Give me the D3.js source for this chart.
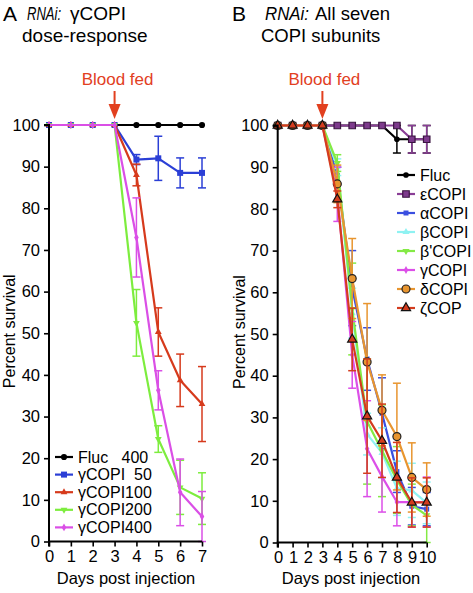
<!DOCTYPE html>
<html><head><meta charset="utf-8">
<script src="https://cdn.jsdelivr.net/npm/d3@7"></script>
<style>body{margin:0;background:#fff}svg{display:block}</style>
</head><body><svg id="c" width="473" height="593"></svg>
<script>
// ---------- Panel A data ----------
const daysA = [0,1,2,3,4,5,6,7];
const seriesA = ["Fluc   400","γCOPI  50","γCOPI100","γCOPI200","γCOPI400"];
const flucA = [100,100,100,100,100,100,100,100];
const flucAErr = [0,0,0,0,0,0,0,0];
const g50 = [100,100,100,100,91.7,92,88.5,88.5];
const g50Err = [0,0,0,0,1.2,5.3,3.6,3.6];
const g100 = [100,100,100,100,88,50.3,38.7,33];
const g100Err = [0,0,0,0,2.6,5.8,6.3,9];
const g200 = [100,100,100,100,52.5,24.6,13,10.3];
const g200Err = [0,0,0,0,8,3.2,6.5,6.2];
const g400 = [100,100,100,100,73,36.3,11.8,6];
const g400Err = [0,0,0,0,9.5,4.7,8,6];

// ---------- Panel B data ----------
const daysB = [0,1,2,3,4,5,6,7,8,9,10];
const seriesB = ["Fluc","εCOPI","αCOPI","βCOPI","β'COPI","γCOPI","δCOPI","ζCOP"];
const flucB = [100,100,100,100,100,100,100,100,96.7,96.7,96.7];
const flucBErr = [0,0,0,0,0,0,0,0,3.3,3.3,3.3];
const eps = [100,100,100,100,100,100,100,100,100,96.7,96.7];
const epsErr = [0,0,0,0,0,0,0,0,0,3.3,3.3];
const alpha = [100,100,100,100,88,61,44,31,17,8.7,8];
const alphaErr = [0,0,0,0,2,9,7.5,8.5,5,4.5,4];
const beta = [100,100,100,100,90,55,26,21.5,13,12.5,9.5];
const betaErr = [0,0,0,0,2,6,5,6,6.5,6.5,5];
const betaP = [100,100,100,100,91,56,29,22,15,9,6.5];
const betaPErr = [0,0,0,0,2,11,15,11,8,5,6.5];
const gammaB = [100,100,100,100,83.5,45,22.5,15.8,9.7,9.7,9.7];
const gammaBErr = [0,0,0,0,6.5,8,11.5,8.5,5.7,6,6];
const delta = [100,100,100,100,86,63.3,43.3,31.7,25.4,15.6,12.7];
const deltaErr = [0,0,0,0,4.5,9.6,14,8.5,12.8,8.3,6.4];
const zeta = [100,100,100,100,82.3,48.7,30.3,24.4,15.6,9.6,9.6];
const zetaErr = [0,0,0,0,2,7.5,13.7,8.8,8.4,5.9,5.9];

const yTicks = [0,10,20,30,40,50,60,70,80,90,100];

const svg = d3.select("#c");
const FONT = "'Liberation Sans', Arial, Helvetica, sans-serif";
const TFONT = "'Liberation Sans', Arial, sans-serif";
const RED = "#e2401f";

function sym(type, size){
  const m = {circle:d3.symbolCircle, square:d3.symbolSquare, triangle:d3.symbolTriangle, diamond:d3.symbolDiamond, cross:d3.symbolCross};
  return d3.symbol().type(m[type]).size(size)();
}

function drawPanel(cfg){
  const g = svg.append("g");
  const x = d3.scaleLinear().domain([0, cfg.days[cfg.days.length-1]]).range([cfg.x0, cfg.x1]);
  const y = d3.scaleLinear().domain([0,100]).range([cfg.y0, cfg.y1]);

  cfg.series.forEach(s => {
    const sg = g.append("g");
    cfg.days.forEach((d,i) => {
      const e = s.err[i]; if(!e) return;
      const cx = x(d), top = y(Math.min(100, s.vals[i]+e)), bot = y(Math.max(0, s.vals[i]-e));
      sg.append("line").attr("x1",cx).attr("x2",cx).attr("y1",top).attr("y2",bot).attr("stroke",s.color).attr("stroke-width",1.5);
      if (s.vals[i]+e <= 100.01) sg.append("line").attr("x1",cx-4).attr("x2",cx+4).attr("y1",top).attr("y2",top).attr("stroke",s.color).attr("stroke-width",1.5);
      sg.append("line").attr("x1",cx-4).attr("x2",cx+4).attr("y1",bot).attr("y2",bot).attr("stroke",s.color).attr("stroke-width",1.5);
    });
    const line = d3.line().x((d,i)=>x(cfg.days[i])).y(d=>y(d));
    sg.append("path").attr("d", line(s.vals)).attr("fill","none").attr("stroke",s.color).attr("stroke-width",2.2).attr("stroke-linejoin","round");
    s.vals.forEach((v,i)=>{
      sg.append("path").attr("d", sym(s.shape, s.size))
        .attr("transform", `translate(${x(cfg.days[i])},${y(v)})${s.flip?" rotate(180)":""}`)
        .attr("fill", s.fill||s.color).attr("stroke", s.stroke||"none").attr("stroke-width", s.stroke?1.2:0);
    });
  });

  const ya = g.append("g").attr("transform",`translate(${cfg.x0},0)`)
    .call(d3.axisLeft(y).tickValues(yTicks).tickSize(5).tickPadding(4).tickFormat(d3.format("d")));
  const xa = g.append("g").attr("transform",`translate(0,${cfg.y0})`)
    .call(d3.axisBottom(x).tickValues(cfg.days).tickSize(5).tickPadding(4).tickFormat(d3.format("d")));
  [ya,xa].forEach(a=>{
    a.select(".domain").attr("stroke","#000").attr("stroke-width",2);
    a.selectAll(".tick line").attr("stroke","#000").attr("stroke-width",1.6);
    a.selectAll("text").attr("font-family",FONT).attr("font-size",16.5).attr("fill","#000");
  });
  ya.select(".domain").attr("d",`M-5,${cfg.y1}H0V${cfg.y0}`);
  xa.select(".domain").attr("d",`M${cfg.x0},5V0H${cfg.x1}`);
  if (cfg.tight) xa.selectAll("text").attr("letter-spacing",-0.8);

  g.append("text").attr("transform",`translate(${cfg.ylabX},${(cfg.y0+cfg.y1)/2 - 2}) rotate(-90)`)
    .attr("text-anchor","middle").attr("font-family",FONT).attr("font-size",16).text("Percent survival");
  g.append("text").attr("x",cfg.xlabX).attr("y",584).attr("text-anchor","middle")
    .attr("font-family",FONT).attr("font-size",16.5).text("Days post injection");

  const ax = x(3);
  g.append("text").attr("x",ax+cfg.bfdx).attr("y",85).attr("text-anchor","middle").attr("font-family",FONT)
    .attr("font-size",17).attr("fill",RED).text("Blood fed");
  g.append("line").attr("x1",ax).attr("x2",ax).attr("y1",91).attr("y2",108).attr("stroke",RED).attr("stroke-width",2);
  g.append("path").attr("d",`M${ax-6},104L${ax+6},104L${ax},119Z`).attr("fill",RED);

  cfg.series.forEach((s,i)=>{
    const ly = cfg.legY + i*cfg.legDy;
    g.append("line").attr("x1",cfg.legX).attr("x2",cfg.legX+18).attr("y1",ly).attr("y2",ly).attr("stroke",s.color).attr("stroke-width",2.2);
    g.append("path").attr("d",sym(s.shape,s.size)).attr("transform",`translate(${cfg.legX+9},${ly})${s.flip?" rotate(180)":""}`)
      .attr("fill",s.fill||s.color).attr("stroke",s.stroke||"none").attr("stroke-width",s.stroke?1.2:0);
    g.append("text").attr("x",cfg.legX+23).attr("y",ly+5.5).attr("font-family",FONT).attr("font-size",16)
      .attr("xml:space","preserve").style("white-space","pre").text(cfg.names[i]);
  });
}

drawPanel({
  days: daysA, x0:49, x1:202, y0:541.5, y1:125, ylabX:15, xlabX:126, bfdx:3,
  legX:55, legY:457, legDy:17.6, names: seriesA,
  series: [
    {vals:flucA, err:flucAErr, color:"#000", shape:"circle", size:30},
    {vals:g50, err:g50Err, color:"#2b3fd6", shape:"square", size:36},
    {vals:g100, err:g100Err, color:"#d63a1c", shape:"triangle", size:20},
    {vals:g200, err:g200Err, color:"#7ded3e", shape:"triangle", size:20, flip:true},
    {vals:g400, err:g400Err, color:"#da4fe6", shape:"diamond", size:18}
  ]
});

drawPanel({
  days: daysB, x0:277.7, x1:426.7, y0:542.5, y1:125.5, ylabX:245, xlabX:351, bfdx:2, tight:true,
  legX:397, legY:175, legDy:19, names: seriesB,
  series: [
    {vals:flucB, err:flucBErr, color:"#000", shape:"circle", size:25},
    {vals:eps, err:epsErr, color:"#8a3e96", shape:"square", size:42, fill:"#7d3a8c", stroke:"#3a1440"},
    {vals:alpha, err:alphaErr, color:"#3a4fe0", shape:"square", size:25},
    {vals:beta, err:betaErr, color:"#8ff2f2", shape:"triangle", size:22},
    {vals:betaP, err:betaPErr, color:"#84ea45", shape:"triangle", size:22, flip:true},
    {vals:gammaB, err:gammaBErr, color:"#dc4fe8", shape:"diamond", size:18},
    {vals:delta, err:deltaErr, color:"#e8952f", shape:"circle", size:50, stroke:"#222"},
    {vals:zeta, err:zetaErr, color:"#d43c1e", shape:"triangle", size:36, stroke:"#111"}
  ]
});

function title(x, y, txt, size, italic, len){
  const t = svg.append("text").attr("x",x).attr("y",y).attr("font-family",TFONT).attr("font-size",size).text(txt);
  if (italic) t.attr("font-style","italic");
  if (len) t.attr("textLength",len).attr("lengthAdjust","spacingAndGlyphs");
}
title(3, 21, "A", 21);
title(27, 20, "RNAi:", 18, true, 34);
title(70, 20, "γCOPI", 19);
title(22, 42, "dose-response", 19);
title(232, 21, "B", 21);
title(265, 20, "RNAi:", 18, true, 44);
title(315, 20, "All seven", 18.5);
title(261, 42, "COPI subunits", 18.5);
</script></body></html>
